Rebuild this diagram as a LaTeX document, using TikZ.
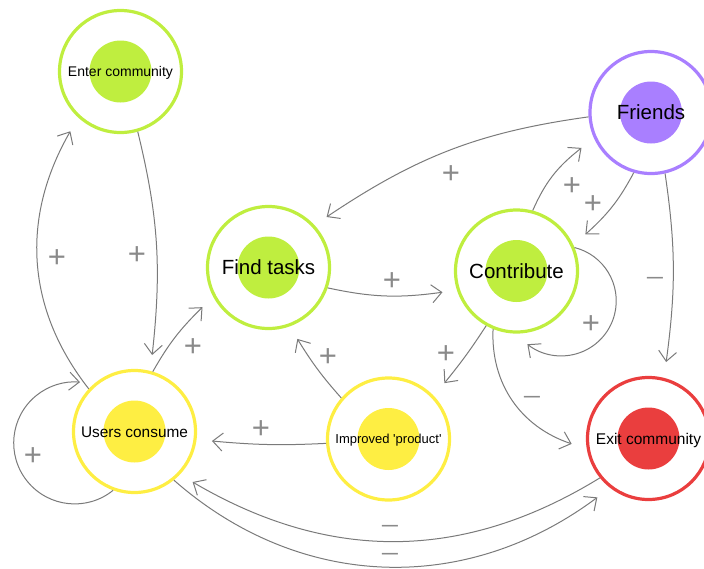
\documentclass[tikz,border=0pt]{standalone}
\usepackage{fontspec}
\setmainfont{Liberation Sans}
\usetikzlibrary{arrows.meta}

\definecolor{loopgreen}{HTML}{BFEE3F}
\definecolor{loopyellow}{HTML}{FEEE43}
\definecolor{loopred}{HTML}{EA3E3E}
\definecolor{looppurple}{HTML}{A97FFF}
\definecolor{linkgray}{HTML}{7A7A7A}
\definecolor{signgray}{HTML}{8A8A8A}

\tikzset{
  % a concept: coloured ring with a filled disc in the middle
  concept/.style={circle, draw=#1, line width=3.2pt, minimum size=122pt,
    inner sep=0pt, text depth=0pt,
    path picture={\fill[#1] (path picture bounding box.center) circle[radius=31pt];}},
  link/.style={draw=linkgray, line width=1pt,
    -{Straight Barb[length=10pt,width=18pt]}},
  possign/.style={text=signgray, font=\fontsize{31}{31}\selectfont,
    inner sep=0pt, text height=21.9pt, text depth=0pt},
  negsign/.style={text=signgray, font=\fontsize{22}{22}\selectfont,
    inner sep=0pt, text height=15.5pt, text depth=0pt},
}
\newcommand{\negmark}{\scalebox{1.5}[1]{−}}

\begin{document}
\begin{tikzpicture}[x=1pt,y=1pt]
\useasboundingbox (0,0) rectangle (704,-568);

% concepts
\node[concept=loopgreen, font=\fontsize{14}{14}\selectfont, text height=10pt]
  (E) at (120.5,-71.5) {Enter community};
\node[concept=looppurple, font=\fontsize{20.5}{20.5}\selectfont, text height=14.7pt]
  (F) at (651,-112.5) {Friends};
\node[concept=loopgreen, font=\fontsize{20.5}{20.5}\selectfont, text height=14.7pt]
  (T) at (268.5,-267.5) {Find tasks};
\node[concept=loopgreen, font=\fontsize{20.5}{20.5}\selectfont, text height=14.7pt]
  (C) at (516.5,-271) {Contribute};
\node[concept=loopyellow, font=\fontsize{15.4}{15.4}\selectfont, text height=11pt]
  (U) at (134.5,-431.5) {Users consume};
\node[concept=loopyellow, font=\fontsize{13}{13}\selectfont, text height=9.3pt]
  (P) at (388.5,-439) {Improved \textquotesingle product\textquotesingle};
\node[concept=loopred, font=\fontsize{15.5}{15.5}\selectfont, text height=11.1pt]
  (X) at (648.5,-438.5) {Exit community};

% links between concepts
\draw[link] (U.137) to[bend left=34] ([shift={(-130:78pt)}]E.center);
\draw[link] (E.-74) to[bend left=10] ([shift={(77:78.5pt)}]U.center);
\draw[link] (U.73) to[bend left=8] ([shift={(211:77pt)}]T.center);
\draw[link] (U.-110) arc[start angle=-51, end angle=-275, radius=61pt];
\draw[link] (T.-19) to[bend right=10] ([shift={(196:77pt)}]C.center);
\draw[link] (F.-176) to[bend right=13] ([shift={(41:77pt)}]T.center);
\draw[link] (C.75) to[bend left=14] ([shift={(-153:78pt)}]F.center);
\draw[link] (F.-106) to[bend left=10] ([shift={(28:78pt)}]C.center);
\draw[link] (C.22) arc[start angle=76, end angle=-128, radius=55pt];
\draw[link] (F.-77) to[bend left=8] ([shift={(77:78.5pt)}]X.center);
\draw[link] (C.-119) to[bend left=3] ([shift={(45:79pt)}]P.center);
\draw[link] (C.-112) to[bend right=37] ([shift={(184:77pt)}]X.center);
\draw[link] (P.139) to[bend left=5] ([shift={(-68:77pt)}]T.center);
\draw[link] (P.-176) to[bend left=4] ([shift={(-7:78pt)}]U.center);
\draw[link] (X.-141) to[bend left=31] ([shift={(-41:77pt)}]U.center);
\draw[link] (U.-51) to[bend right=39] ([shift={(-131:78pt)}]X.center);

% polarity signs
\node[possign] (s1) at (57,-257) {+};
\node[possign] (s2) at (137,-254) {+};
\node[possign] (s3) at (193,-346) {+};
\node[possign] (s4) at (33,-455) {+};
\node[possign] (s5) at (392,-280) {+};
\node[possign] (s6) at (451,-173) {+};
\node[possign] (s7) at (572,-185) {+};
\node[possign] (s8) at (593,-203) {+};
\node[possign] (s9) at (591,-323) {+};
\node[negsign] (s10) at (655,-278) {\negmark};
\node[possign] (s11) at (446,-353) {+};
\node[negsign] (s12) at (532,-397) {\negmark};
\node[possign] (s13) at (328,-356) {+};
\node[possign] (s14) at (261,-428) {+};
\node[negsign] (s15) at (390,-526) {\negmark};
\node[negsign] (s16) at (390,-554) {\negmark};
\end{tikzpicture}
\end{document}
